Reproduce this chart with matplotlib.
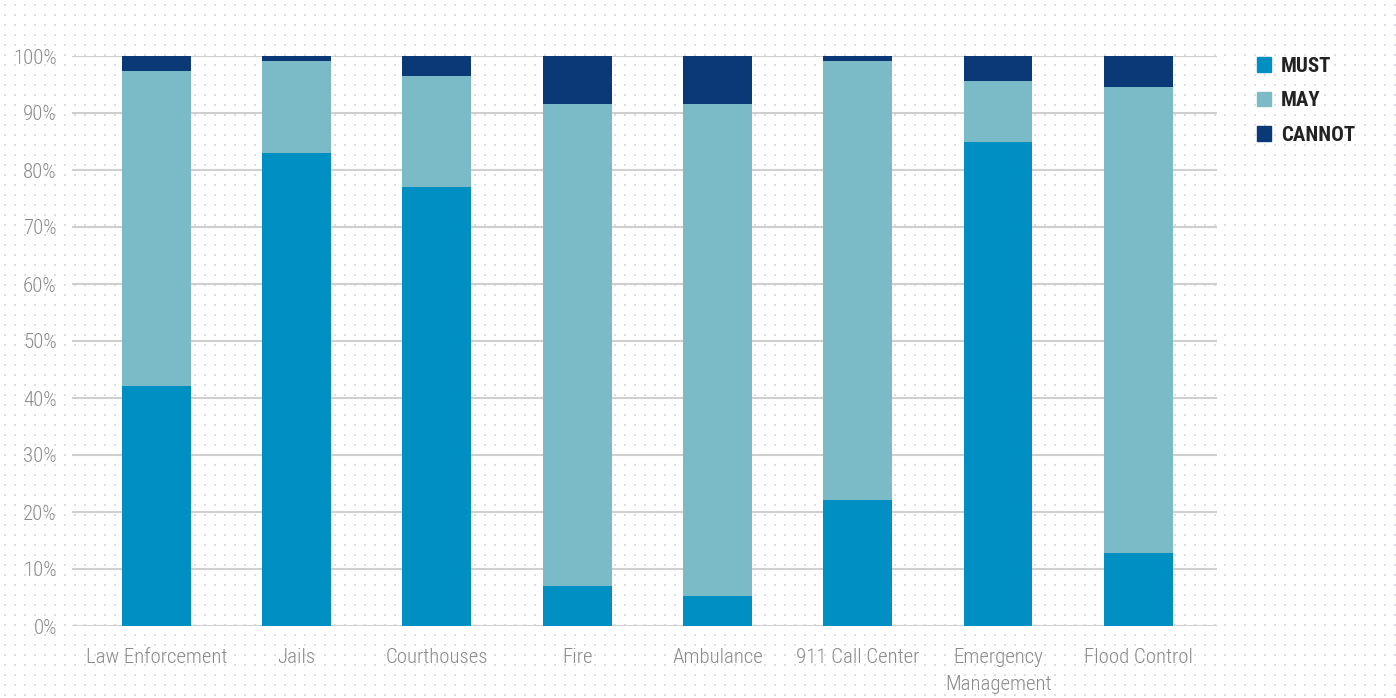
import numpy as np
import matplotlib
matplotlib.use("Agg")
import matplotlib.pyplot as plt
from matplotlib.patches import Patch

plt.rcParams['font.family'] = ['Roboto Condensed', 'Barlow Condensed', 'DejaVu Sans']

# Données (en %)
categories = ["Law Enforcement", "Jails", "Courthouses", "Fire", "Ambulance",
              "911 Call Center", "Emergency\nManagement", "Flood Control"]
must = [42.1, 83.0, 77.0, 7.0, 5.3, 22.1, 84.9, 12.8]
may = [55.3, 16.1, 19.5, 84.6, 86.3, 77.0, 10.7, 81.8]
cannot = [2.6, 0.9, 3.5, 8.4, 8.4, 0.9, 4.4, 5.4]
yticks = [0, 10, 20, 30, 40, 50, 60, 70, 80, 90, 100]

c_must = "#008fc3"
c_may = "#7bbbc7"
c_cannot = "#0b3977"
gris = "#8a8a8a"

fig = plt.figure(figsize=(13.96, 6.98), dpi=100)

# fond pointillé
bg = fig.add_axes([0, 0, 1, 1], zorder=0)
bg.set_xlim(0, 1396)
bg.set_ylim(698, 0)
bg.axis("off")
xx, yy = np.meshgrid(np.arange(5, 1396, 10), np.arange(5, 698, 10))
bg.scatter(xx.ravel(), yy.ravel(), s=2.2, c="#dcdce4", marker="s", linewidths=0)

ax = fig.add_axes([72/1396, 72/698, 1145/1396, 570/698], zorder=1)
ax.patch.set_alpha(0)

x = np.arange(len(categories))
w = 0.49
must = np.array(must)
may = np.array(may)
cannot = np.array(cannot)
ax.bar(x, must, w, color=c_must, zorder=3, clip_on=False)
ax.bar(x, may, w, bottom=must, color=c_may, zorder=3, clip_on=False)
ax.bar(x, cannot, w, bottom=must + may, color=c_cannot, zorder=3, clip_on=False)

ax.set_xlim(-0.6, 7.56)
ax.set_ylim(0, 100)
ax.set_yticks(yticks)
ax.set_yticklabels([f"{v}%" for v in yticks])
ax.yaxis.grid(True, color="#cfcfcf", lw=1.5, zorder=1)
ax.set_xticks(x)
ax.set_xticklabels(categories, linespacing=1.5)
ax.tick_params(length=0, labelsize=15, colors=gris)
ax.tick_params(axis="y", pad=11)
ax.tick_params(axis="x", pad=16)
for lab in ax.get_xticklabels() + ax.get_yticklabels():
    lab.set_fontweight(300)
for s in ax.spines.values():
    s.set_visible(False)

handles = [Patch(color=c_must, label="MUST"),
           Patch(color=c_may, label="MAY"),
           Patch(color=c_cannot, label="CANNOT")]
leg = fig.legend(handles=handles, loc="upper left", bbox_to_anchor=(1238/1396, 1 - 38/698),
                 frameon=False, handlelength=0.7, handleheight=0.7, handletextpad=0.45,
                 labelspacing=0.75, prop={"size": 15, "weight": "bold"})
for t in leg.get_texts():
    t.set_color("#222222")

plt.savefig("out.png", dpi=100)
